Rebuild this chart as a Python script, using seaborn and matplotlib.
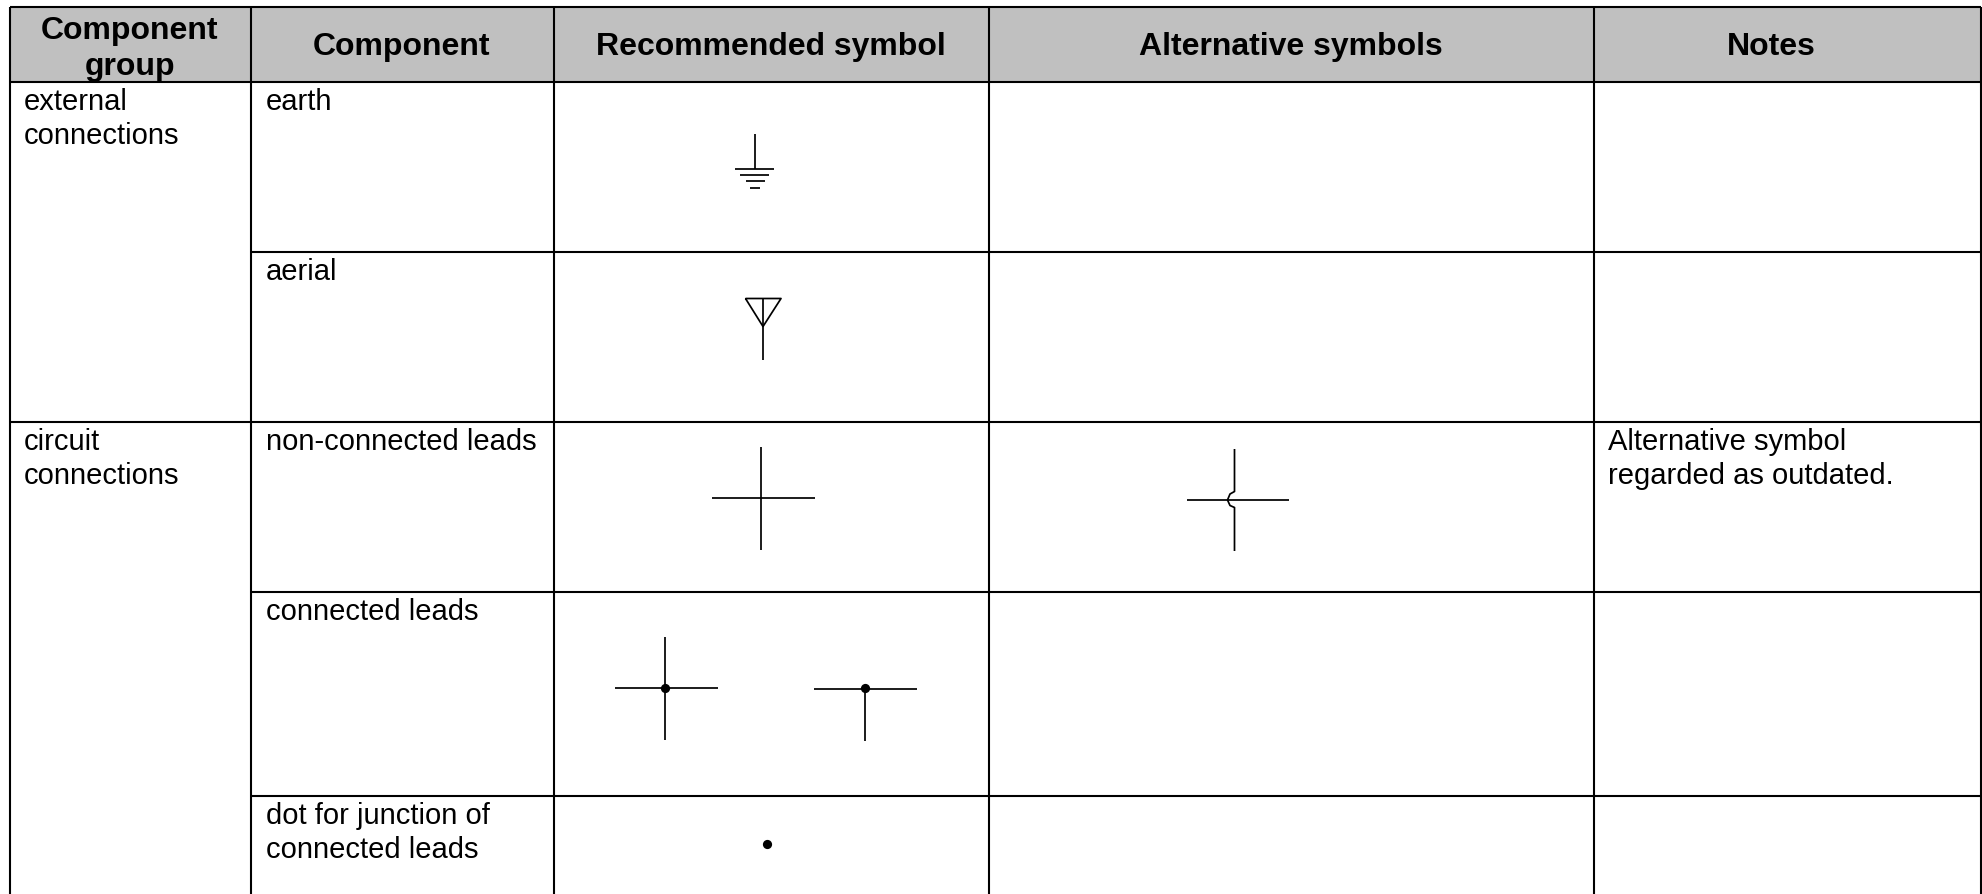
import pandas as pd
import matplotlib
matplotlib.use("Agg")
import matplotlib.pyplot as plt
import seaborn as sns

# table grid, in reference pixels
col_edges = [10, 250.5, 553.5, 989, 1594, 1981]
row_edges = [6.5, 81.5, 251.5, 421.5, 592, 795.5, 894]

header_labels = ["Component", "Recommended symbol", "Alternative symbols", "Notes"]
header_centres = [402, 771, 1291, 1771]

body_x = [24, 265.5, 1608.5]
group_text = [("external", 110), ("connections", 144), ("circuit", 450.5), ("connections", 484)]
component_text = [
    ("earth", 110),
    ("aerial", 280),
    ("non-connected leads", 450.5),
    ("connected leads", 620),
    ("dot for junction of", 824),
    ("connected leads", 858),
]
notes_text = [("Alternative symbol", 450.5), ("regarded as outdated.", 484)]

# symbol strokes, each one a polyline
earth_strokes = [
    [(754.5, 134), (754.5, 168.5)],
    [(735, 168.5), (774, 168.5)],
    [(740, 175), (769, 175)],
    [(745.5, 181), (765, 181)],
    [(750, 187.5), (759.5, 187.5)],
]
aerial_strokes = [
    [(745.5, 298.5), (781, 298.5), (763, 326.5), (745.5, 298.5)],
    [(763, 298.5), (763, 360)],
]
crossing_strokes = [
    [(761, 447), (761, 550)],
    [(712, 498), (814.5, 498)],
]
hop_strokes = [
    [(1234.5, 449), (1234.5, 491.5), (1230, 494), (1227.5, 500), (1230, 505.5), (1234.5, 507.5), (1234.5, 551)],
    [(1186.5, 500), (1289, 500)],
]
cross_joint_strokes = [
    [(664.5, 636.5), (664.5, 739.5)],
    [(615, 687.5), (718, 687.5)],
]
tee_joint_strokes = [
    [(814, 688.5), (917, 688.5)],
    [(864.5, 688.5), (864.5, 740.5)],
]
dots_x = [665, 864.5, 767]
dots_y = [687.5, 688, 844]

all_strokes = (earth_strokes + aerial_strokes + crossing_strokes + hop_strokes
               + cross_joint_strokes + tee_joint_strokes)
rows = []
for n, stroke in enumerate(all_strokes):
    for order, (px, py) in enumerate(stroke):
        rows.append({"stroke": n, "order": order, "x": px, "y": py})
strokes_df = pd.DataFrame(rows)
dots_df = pd.DataFrame({"x": dots_x, "y": dots_y})

sns.set_theme(style="white")
plt.rcParams["font.family"] = ["Liberation Sans", "DejaVu Sans"]
plt.rcParams["lines.solid_capstyle"] = "butt"

fig = plt.figure(figsize=(19.82, 8.94), dpi=100, facecolor="white")
ax = fig.add_axes([0, 0, 1, 1])

ax.axhspan(row_edges[0], row_edges[1], xmin=col_edges[0] / 1982, xmax=col_edges[-1] / 1982,
           facecolor="#c0c0c0", edgecolor="none", zorder=0)

sns.lineplot(data=strokes_df, x="x", y="y", units="stroke", estimator=None, sort=False,
             color="black", linewidth=1.25, legend=False, ax=ax)
sns.scatterplot(data=dots_df, x="x", y="y", color="black", s=44, linewidth=0, legend=False, ax=ax, zorder=3)

# outer lines and the rows that span every column
grid_lw = 1.5
ax.vlines(col_edges, row_edges[0], row_edges[-1], color="black", linewidth=grid_lw, zorder=2)
ax.hlines([row_edges[0], row_edges[1], row_edges[3]], col_edges[0], col_edges[-1],
          color="black", linewidth=grid_lw, zorder=2)
# the first column is merged over these rows
ax.hlines([row_edges[2], row_edges[4], row_edges[5]], col_edges[1], col_edges[-1],
          color="black", linewidth=grid_lw, zorder=2)

ax.text(130, 38.5, "Component", ha="center", va="baseline", fontsize=23, fontweight="bold", color="black")
ax.text(130, 75, "group", ha="center", va="baseline", fontsize=23, fontweight="bold", color="black")
for label, cx in zip(header_labels, header_centres):
    ax.text(cx, 55, label, ha="center", va="baseline", fontsize=23, fontweight="bold", color="black")

for tx, lines in zip(body_x, [group_text, component_text, notes_text]):
    for label, ty in lines:
        ax.text(tx, ty, label, ha="left", va="baseline", fontsize=21, color="black")

ax.set_xlim(0, 1982)
ax.set_ylim(894, 0)
ax.axis("off")

fig.savefig("out.png", dpi=100, facecolor="white")
